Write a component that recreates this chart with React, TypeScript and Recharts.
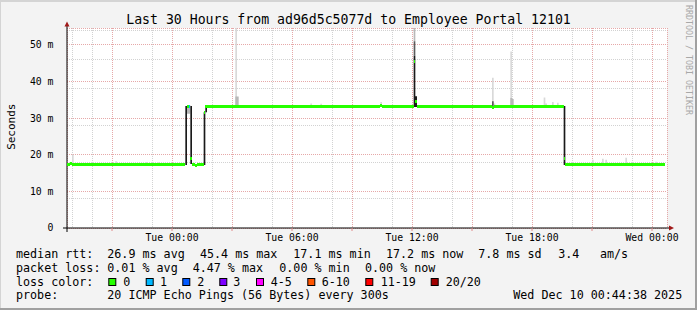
import { Area, CartesianGrid, ComposedChart, Scatter, XAxis, YAxis } from "recharts";

// median rtt (ms), one value per 5 minute step, starting Mon 18:45
const medianRtt: (number | null)[] = [
  17.4, 17.4, 17.5, 17.3, 17.2, 17.4, 17.2, 17.2, 17.4, 17.2, 17.2, 17.3,
  17.2, 17.4, 17.4, 17.2, 17.2, 17.2, 17.4, 17.2, 17.2, 17.2, 17.4, 17.4,
  17.2, 17.2, 17.2, 17.4, 17.4, 17.2, 17.2, 17.2, 17.2, 17.4, 17.2, 17.2,
  17.4, 17.4, 17.2, 17.2, 17.2, 17.2, 17.4, 17.2, 17.2, 17.2, 17.2, 17.2,
  17.2, 17.4, 17.2, 17.2, 17.2, 17.2, 17.2, 17.4, 17.4, 17.2, 17.2, 17.2,
  17.2, 17.2, 17.4, 17.2, 17.2, 17.2, 17.2, 17.2, 17.3, 17.2, 17.2, null,
  33.2, 33.2, 18.9, 17.2, 17.2, 17.1, 17.2, 17.2, 17.2, 17.2, 31.6, 33.1,
  33.1, 33.1, 33.2, 33.1, 33.1, 33.1, 33.1, 33.3, 33.1, 33.1, 33.1, 33.1,
  33.1, 33.1, 33.1, 33.1, 33.1, 33.2, 33.1, 33.1, 33.1, 33.1, 33.1, 33.1,
  33.1, 33.1, 33.3, 33.1, 33.1, 33.1, 33.1, 33.1, 33.1, 33.2, 33.1, 33.1,
  33.1, 33.1, 33.1, 33.1, 33.1, 33.1, 33.3, 33.1, 33.1, 33.1, 33.1, 33.1,
  33.1, 33.1, 33.1, 33.2, 33.1, 33.1, 33.1, 33.1, 33.1, 33.1, 33.3, 33.1,
  33.1, 33.1, 33.3, 33.1, 33.1, 33.1, 33.1, 33.1, 33.2, 33.1, 33.1, 33.1,
  33.1, 33.1, 33.1, 33.1, 33.1, 33.3, 33.1, 33.1, 33.1, 33.1, 33.1, 33.1,
  33.1, 33.2, 33.1, 33.1, 33.1, 33.1, 33.1, 33.1, 33.3, 33.1, 33.1, 33.1,
  33.1, 33.1, 33.1, 33.1, 33.1, 33.1, 33.1, 33.1, 33.4, 33.2, 33.1, 33.1,
  33.1, 33.1, 33.1, 33.1, 33.1, 33.1, 33.1, 33.2, 33.1, 33.1, 33.1, 33.1,
  33.1, 33.1, 33.1, 33.1, 45.4, 34.6, 33.1, 33.1, 33.1, 33.1, 33.1, 33.1,
  33.1, 33.1, 33.3, 33.3, 33.1, 33.1, 33.1, 33.1, 33.1, 33.1, 33.2, 33.1,
  33.1, 33.1, 33.1, 33.1, 33.1, 33.1, 33.1, 33.1, 33.1, 33.1, 33.1, 33.2,
  33.1, 33.1, 33.1, 33.1, 33.1, 33.1, 33.2, 33.1, 33.1, 33.1, 33.1, 33.1,
  33.1, 33.1, 33.1, 33.0, 33.3, 33.1, 33.1, 33.3, 33.3, 33.1, 33.1, 33.1,
  33.1, 33.1, 33.2, 33.1, 33.1, 33.1, 33.1, 33.1, 33.1, 33.1, 33.1, 33.1,
  33.1, 33.2, 33.1, 33.1, 33.1, 33.1, 33.1, 33.1, 33.1, 33.1, 33.3, 33.2,
  33.2, 33.1, 33.1, 33.2, 33.1, 33.1, 33.1, 33.2, 33.1, 33.1, 18.9, 17.2,
  17.2, 17.2, 17.2, 17.2, 17.2, 17.2, 17.4, 17.2, 17.2, 17.2, 17.2, 17.2,
  17.2, 17.2, 17.2, 17.2, 17.2, 17.2, 17.2, 17.2, 17.2, 17.2, 17.2, 17.2,
  17.2, 17.3, 17.2, 17.2, 17.2, 17.2, 17.2, 17.2, 17.2, 17.2, 17.2, 17.2,
  17.2, 17.2, 17.2, 17.2, 17.2, 17.3, 17.2, 17.2, 17.2, 17.2, 17.2, 17.2,
  17.2, 17.2, 17.2, 17.2, 17.2, 17.2, 17.2, 17.2, 17.2, 17.2, 17.2, null,
];

// steps that lost 1 of 20 pings
const lossOneSteps = [73];

// smoke bands: [step, low ms, high ms]
const smokeLight = [
  [3, 17.2, 20.0], [29, 17.2, 18.2], [47, 17.2, 18.0], [54, 17.2, 18.0],
  [101, 33.1, 60], [146, 33.1, 34.0], [152, 33.1, 33.9], [188, 33.1, 34.4],
  [255, 33.1, 41.0], [256, 33.1, 34.0], [266, 33.1, 48.2],
  [286, 33.1, 35.6], [287, 33.1, 34.0], [291, 33.1, 34.4], [294, 33.1, 34.2],
  [315, 17.2, 18.6], [321, 17.2, 18.9], [323, 17.2, 18.6], [335, 17.2, 19.2], [353, 17.2, 18.1],
];
const smokeMid = [
  [72, 31.2, 33.6], [73, 31.2, 33.6], [101, 33.1, 35.9], [102, 33.1, 35.9],
  [208, 51, 60], [266, 33.1, 35.5], [267, 33.1, 35.2],
];
const smokeGray = [[208, 47, 51], [255, 33.0, 34.6]];
const smokeDark = [
  [71, 17.2, 33.3], [74, 17.5, 33.3], [82, 17.2, 31.6], [83, 31.6, 33.1],
  [208, 33.0, 47.0], [209, 33.0, 36.0], [298, 17.2, 33.3],
];

const xMajorTicks = [27, 63, 99, 135, 171, 207, 243, 279, 315, 351];
const xMinorTicks = [3, 15, 39, 51, 75, 87, 111, 123, 147, 159, 183, 195, 219, 231, 255, 267, 291, 303, 327, 339];
const xLabelTicks = [63, 135, 207, 279, 351];
const xTickLabels = ["Tue 00:00", "Tue 06:00", "Tue 12:00", "Tue 18:00", "Wed 00:00"];
const yMajorTicks = [0, 10, 20, 30, 40, 50];
const yMinorTicks = [2, 4, 6, 8, 12, 14, 16, 18, 22, 24, 26, 28, 32, 34, 36, 38, 42, 44, 46, 48, 52, 54];

const rttStats = ["median rtt:", "26.9 ms avg", "45.4 ms max", "17.1 ms min", "17.2 ms now", "7.8 ms sd", "3.4", "am/s"];
const lossStats = ["packet loss:", "0.01 % avg", "4.47 % max", "0.00 % min", "0.00 % now"];
const lossLabels = ["0", "1", "2", "3", "4-5", "6-10", "11-19", "20/20"];
const lossColors = ["#26ff00", "#00b8ff", "#0059ff", "#7e00ff", "#ff00ff", "#ff5500", "#ff0000", "#a10000"];
const probeText = ["probe:", "20 ICMP Echo Pings (56 Bytes) every 300s", "Wed Dec 10 00:44:38 2025"];

const STEPS = 360;
const Y_MAX = 54.6;
const PLOT_W = 600;
const STEP_W = PLOT_W / STEPS;
const MONO = "'DejaVu Sans Mono', monospace";

const rttX = [16, 107.3, 200, 293.3, 386, 478.3, 558.3, 600];
const lossX = [16, 107.3, 192.7, 279.3, 365];
const boxX = [108.3, 145.7, 182.3, 219.3, 256, 307.3, 365.3, 430.7];
const boxLabelX = [123.3, 160, 197.3, 233.3, 270.7, 321.7, 380.7, 445.7];
const probeX = [16, 107.3, 513.3];

const smokeLayers = [
  { key: "light", rows: smokeLight, color: "#d9d9d9" },
  { key: "mid", rows: smokeMid, color: "#b8b8b8" },
  { key: "gray", rows: smokeGray, color: "#5c5c5c" },
  { key: "dark", rows: smokeDark, color: "#1a1a1a" },
];

const chartData = medianRtt.map((median, i) => {
  const row: Record<string, unknown> = { i, median, loss: lossOneSteps.includes(i) ? 1 : 0 };
  smokeLayers.forEach(({ key, rows }) => {
    const hit = rows.find((r) => r[0] === i);
    row[key] = hit ? [hit[1], hit[2]] : [0, 0];
  });
  return row;
});
const medianPoints = chartData.filter((d) => d.median != null);

const MedianMark = (props: any) => {
  const { cx, cy, payload } = props;
  if (cx == null || cy == null || Number.isNaN(cy)) return <g />;
  return (
    <rect
      x={cx}
      y={cy - 1.5}
      width={STEP_W}
      height={3}
      fill={lossColors[payload.loss]}
      shapeRendering="crispEdges"
    />
  );
};

export default function App() {
  const tickStyle = { fontFamily: MONO, fontSize: 9.8, fill: "#000" };
  return (
    <div style={{ position: "relative", width: 697, height: 310, background: "#f3f3f3" }}>
      <style>{"body{margin:0}"}</style>
      <ComposedChart
        width={697}
        height={310}
        data={chartData}
        margin={{ top: 28, right: 30, bottom: 52, left: 0 }}
      >
        <XAxis xAxisId="minorX" dataKey="i" type="number" domain={[0, STEPS]} ticks={xMinorTicks} hide />
        <YAxis yAxisId="minorY" type="number" domain={[0, Y_MAX]} ticks={yMinorTicks} allowDataOverflow hide />
        <XAxis
          xAxisId="main"
          dataKey="i"
          type="number"
          domain={[0, STEPS]}
          ticks={xMajorTicks}
          interval={0}
          height={30}
          tickFormatter={(v) => {
            const k = xLabelTicks.indexOf(v);
            return k >= 0 ? xTickLabels[k] : "";
          }}
          tick={tickStyle}
          tickSize={3}
          tickMargin={3}
          tickLine={{ stroke: "#e08a8a" }}
          axisLine={{ stroke: "#000" }}
        />
        <YAxis
          yAxisId="main"
          type="number"
          domain={[0, Y_MAX]}
          ticks={yMajorTicks}
          interval={0}
          allowDataOverflow
          width={67}
          tickFormatter={(v) => (v === 0 ? "0" : `${v} m`)}
          tick={tickStyle}
          tickLine={false}
          tickMargin={7.5}
          axisLine={{ stroke: "#000" }}
        />
        <CartesianGrid
          xAxisId="minorX"
          yAxisId="minorY"
          fill="#fff"
          stroke="#d2d2d2"
          strokeDasharray="1 1"
          shapeRendering="crispEdges"
        />
        <CartesianGrid
          xAxisId="main"
          yAxisId="main"
          stroke="#e6a8a8"
          strokeDasharray="1 1"
          shapeRendering="crispEdges"
        />
        {smokeLayers.map((l) => (
          <Area
            key={l.key}
            xAxisId="main"
            yAxisId="main"
            type="stepAfter"
            dataKey={l.key}
            stroke="none"
            fill={l.color}
            fillOpacity={1}
            dot={false}
            activeDot={false}
            isAnimationActive={false}
          />
        ))}
        <Scatter
          xAxisId="main"
          yAxisId="main"
          data={medianPoints}
          dataKey="median"
          shape={MedianMark}
          isAnimationActive={false}
        />
      </ComposedChart>

      <svg
        width={697}
        height={310}
        style={{ position: "absolute", left: 0, top: 0, pointerEvents: "none" }}
        fontFamily={MONO}
      >
        {/* frame */}
        <rect x={0} y={0} width={697} height={2} fill="#d4d4d4" />
        <rect x={0} y={0} width={1} height={310} fill="#d4d4d4" />
        <rect x={695} y={0} width={2} height={310} fill="#a0a0a0" />
        <rect x={0} y={308} width={697} height={2} fill="#a0a0a0" />

        {/* axis ends and arrows */}
        <line x1={63} y1={228} x2={67} y2={228} stroke="#000" />
        <line x1={667} y1={228} x2={670} y2={228} stroke="#000" />
        <line x1={67} y1={228} x2={67} y2={232} stroke="#000" />
        <line x1={67} y1={28} x2={67} y2={25} stroke="#000" />
        <polygon points="64.5,26.5 69.5,26.5 67,21.5" fill="#a01818" />
        <polygon points="669,225.5 669,230.5 674,228" fill="#a01818" />

        <text x={348.5} y={24} textAnchor="middle" fontSize={13.2} fill="#000">
          Last 30 Hours from ad96d5c5077d to Employee Portal 12101
        </text>
        <text transform="translate(14.5,126.7) rotate(-90)" textAnchor="middle" fontSize={11} fill="#000">
          Seconds
        </text>
        <text transform="translate(685.5,5) rotate(90)" fontSize={8.3} fill="#a8a8a8">
          RRDTOOL / TOBI OETIKER
        </text>

        <g fontSize={11.7} fill="#000" style={{ whiteSpace: "pre" }}>
          {rttStats.map((s, k) => (
            <text key={`r${k}`} x={rttX[k]} y={258.3}>{s}</text>
          ))}
          {lossStats.map((s, k) => (
            <text key={`l${k}`} x={lossX[k]} y={271.9}>{s}</text>
          ))}
          <text x={16} y={285.5}>loss color:</text>
          {lossLabels.map((s, k) => (
            <g key={`c${k}`}>
              <rect x={boxX[k] + 0.5} y={278.5} width={7} height={7} fill={lossColors[k]} stroke="#000" />
              <text x={boxLabelX[k]} y={285.5}>{s}</text>
            </g>
          ))}
          {probeText.map((s, k) => (
            <text key={`p${k}`} x={probeX[k]} y={299.1}>{s}</text>
          ))}
        </g>
      </svg>
    </div>
  );
}
